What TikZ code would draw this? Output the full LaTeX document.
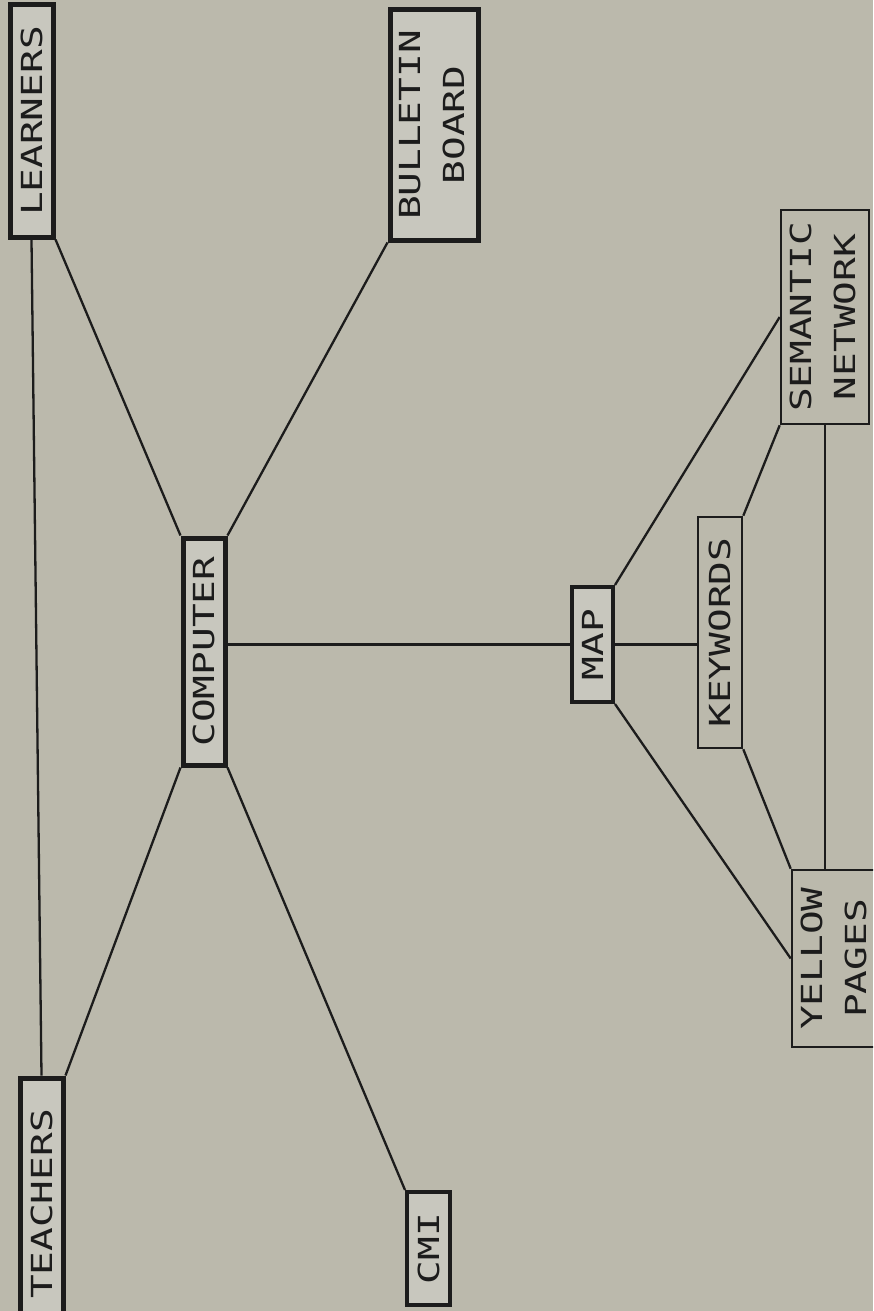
\documentclass[tikz,border=0pt]{standalone}
\usepackage{fontspec}
\setmonofont{DejaVu Sans Mono}
\usepackage{graphicx}
\definecolor{bgc}{RGB}{187,185,172}
\definecolor{boxfill}{RGB}{200,199,190}
\definecolor{ink}{RGB}{28,28,28}
\newcommand\plotfont{\fontsize{29}{44}\selectfont\ttfamily}
\newcommand\lbl[1]{\rotatebox{90}{\scalebox{1.36}[1]{\plotfont #1}}}
\newcommand\lbltwo[2]{\rotatebox{90}{\scalebox{1.36}[1]{\plotfont\begin{tabular}{@{}c@{}}#1\\#2\end{tabular}}}}
\begin{document}
\begin{tikzpicture}[x=1pt,y=-1pt,
  thickbox/.style={draw=ink,line width=5pt,fill=boxfill,rectangle,inner sep=0pt,text=ink},
  midbox/.style={draw=ink,line width=4pt,fill=boxfill,rectangle,inner sep=0pt,text=ink},
  thinbox/.style={draw=ink,line width=2.6pt,rectangle,inner sep=0pt,text=ink},
  conn/.style={draw=ink,line width=2.3pt}]
\useasboundingbox (0,0) rectangle (873,1311);
\clip (0,0) rectangle (873,1311);
\fill[bgc] (0,0) rectangle (873,1311);

\path
  (31.5,121) node[thickbox,minimum width=43pt,minimum height=232pt] (L) {\lbl{LEARNERS}}
  (41.5,1204) node[thickbox,minimum width=43pt,minimum height=252pt] (T) {\lbl{TEACHERS}}
  (204,651.5) node[thickbox,minimum width=42pt,minimum height=227pt] (C) {\lbl{COMPUTER}}
  (434,125) node[thickbox,minimum width=88pt,minimum height=230pt] (B) {\lbltwo{BULLETIN}{BOARD}}
  (428.5,1248.5) node[midbox,minimum width=43pt,minimum height=113pt] (CMI) {\lbl{CMI}}
  (592.5,644.5) node[midbox,minimum width=41pt,minimum height=115pt] (M) {\lbl{MAP}}
  (720,632.5) node[thinbox,minimum width=44pt,minimum height=231pt] (K) {\lbl{KEYWORDS}}
  (825,317) node[thinbox,minimum width=86pt,minimum height=214pt] (S) {\lbltwo{SEMANTIC}{NETWORK}}
  (836,958.5) node[thinbox,minimum width=88pt,minimum height=177pt] (Y) {\lbltwo{YELLOW}{PAGES}};

\draw[conn] (L.south) -- (T.north);
\draw[conn] (L.south east) -- (C.north west);
\draw[conn] (C.north east) -- (B.south west);
\draw[conn] (C.south west) -- (T.north east);
\draw[conn] (C.south east) -- (CMI.north west);
\draw[conn] (C.east |- M.west) -- (M.west);
\draw[conn] (M.north east) -- (S.west);
\draw[conn] (M.east) -- (M.east -| K.west);
\draw[conn] (M.south east) -- (Y.west);
\draw[conn] (K.north east) -- (S.south west);
\draw[conn] (K.south east) -- (Y.north west);
\draw[conn] (S.south) -- (S.south |- Y.north);
\end{tikzpicture}
\end{document}
